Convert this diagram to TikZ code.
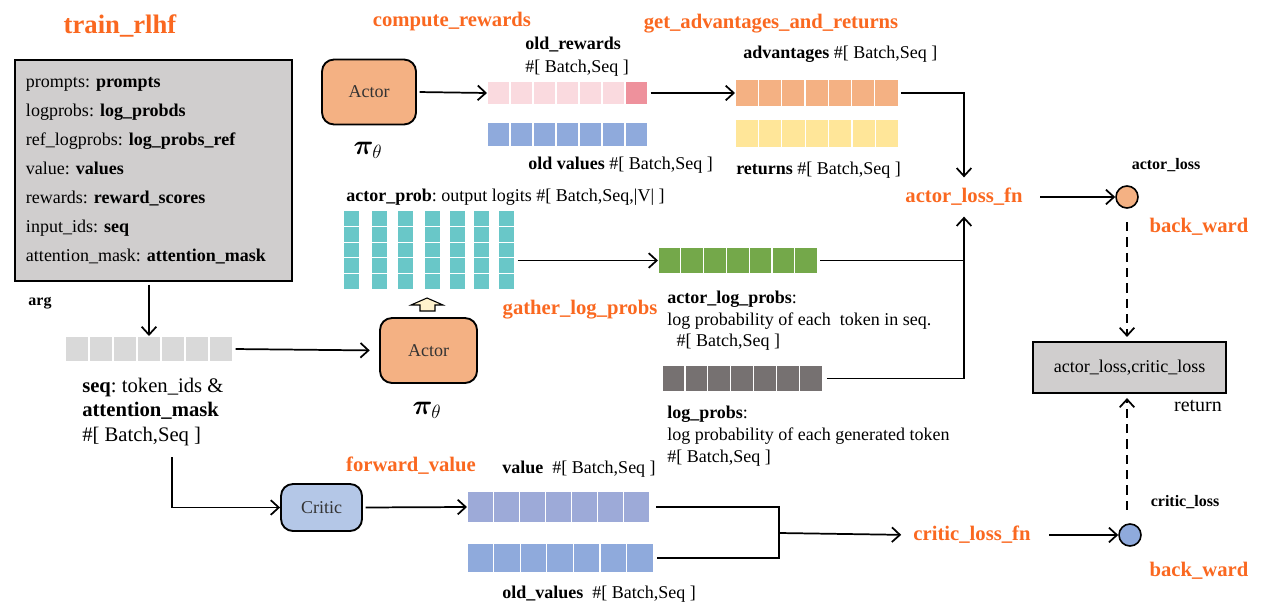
\documentclass[tikz,border=0pt]{standalone}
\usepackage{fontspec}
\setmainfont{Liberation Serif}
\usepackage{bm}
\usetikzlibrary{arrows.meta,calc}
\frenchspacing

\definecolor{fnorange}{RGB}{250,104,32}
\definecolor{cfggray}{HTML}{D0CECE}
\definecolor{actorfill}{HTML}{F4B183}
\definecolor{criticfill}{HTML}{B4C7E7}
\definecolor{rewpink}{HTML}{FADADF}
\definecolor{rewdark}{HTML}{EE919C}
\definecolor{valblue}{HTML}{8FAADC}
\definecolor{lavender}{HTML}{9DAAD8}
\definecolor{retyellow}{HTML}{FFE699}
\definecolor{tealc}{HTML}{69C7C8}
\definecolor{greenc}{HTML}{74A84A}
\definecolor{darkbar}{HTML}{767171}
\definecolor{seqgray}{HTML}{D9D9D9}
\definecolor{cream}{HTML}{FFF2CC}

\newcommand{\fsz}[2]{\fontsize{#1}{#2}\selectfont}

% token bar: name, left, top, cell width, height, cells, colour
\newcommand{\tokbar}[7]{%
  \node[inner sep=0pt,outer sep=0pt,anchor=north west,
        minimum width={#4*#6*0.75pt},minimum height={#5*0.75pt}] (#1) at (#2,#3) {};
  \foreach \k in {1,...,#6}{%
    \fill[#7,draw=white,line width=0.9pt] ({#2+(\k-1)*#4},#3) rectangle ++(#4,#5);}%
}

\tikzset{
  ln/.style={line width=1.3pt},
  arr/.style={ln,-{Straight Barb[length=6pt,width=11pt]},shorten <=2pt},
  dasharr/.style={arr,dash pattern=on 7pt off 4.5pt},
  fnlabel/.style={font=\bfseries\fsz{15.5}{18},text=fnorange,inner sep=1pt},
  txt/.style={font=\fsz{13.5}{16},inner sep=0pt},
  smallbold/.style={font=\bfseries\fsz{12}{14},inner sep=0pt},
  model/.style={draw,line width=1.4pt,rounded corners=9pt,font=\fsz{13.5}{16},text=black!80},
  pilab/.style={font=\fsz{22}{24},inner sep=0pt},
  lossdot/.style={circle,draw,line width=1.2pt,minimum size=16.5pt,inner sep=0pt},
}

\begin{document}
\begin{tikzpicture}[x=0.75pt,y=-0.75pt]
\useasboundingbox (0,0) rectangle (1269,610);

% ---------- argument block ----------
\node[font=\bfseries\fsz{20}{22},text=fnorange,inner sep=0pt] (ttl) at (120,26) {train\_rlhf};
\node[draw,line width=1.6pt,fill=cfggray,align=left,font=\fsz{13.5}{21.75},
      text width=191.25pt,inner xsep=8.25pt,minimum height=165.75pt] (cfg) at (153.5,170.5)
  {prompts: \textbf{prompts}\\
   logprobs: \textbf{log\_probds}\\
   ref\_logprobs: \textbf{log\_probs\_ref}\\
   value: \textbf{values}\\
   rewards: \textbf{reward\_scores}\\
   input\_ids: \textbf{seq}\\
   attention\_mask: \textbf{attention\_mask}};
\node[smallbold] (argl) at (40,303) {arg};

\tokbar{seqbar}{65}{336}{24}{26}{7}{seqgray}
\node[font=\fsz{15.5}{18.4},inner sep=0pt,anchor=west,align=left] (seqtxt) at (82,412)
  {\textbf{seq}: token\_ids \&\\ \textbf{attention\_mask}\\ \#[ Batch,Seq ]};
\coordinate (seqdrop) at (172,457);

% ---------- actor (experience) ----------
\node[fnlabel] (crw) at (452,22) {compute\_rewards};
\node[model,fill=actorfill,minimum width=70.5pt,minimum height=48.75pt] (actor1) at (369,92) {Actor};
\node[pilab] (pi1) at (368,150) {$\bm{\pi}_{\theta}$};

\node[txt,anchor=west,align=left,font=\fsz{13.5}{17.25}] (orl) at (525,57)
  {\textbf{old\_rewards}\\\#[ Batch,Seq ]};
\tokbar{oldrew}{487}{81}{23}{24}{7}{rewpink}
\fill[rewdark,draw=white,line width=0.9pt] ({487+6*23},81) rectangle ++(23,24);
\tokbar{oldval}{487}{122}{23}{25}{7}{valblue}
\node[txt,anchor=west] (ovl) at (528,165) {\textbf{old values} \#[ Batch,Seq ]};

\node[fnlabel] (gar) at (771,24) {get\_advantages\_and\_returns};
\node[txt,anchor=west] (advl) at (743,54) {\textbf{advantages} \#[ Batch,Seq ]};
\tokbar{adv}{735}{79}{23.3}{28}{7}{actorfill}
\tokbar{rets}{735}{119}{23.4}{29}{7}{retyellow}
\node[txt,anchor=west] (retsl) at (736,170) {\textbf{returns} \#[ Batch,Seq ]};

% ---------- actor (training) ----------
\node[txt,anchor=west] (aprob) at (346,197) {\textbf{actor\_prob}: output logits \#[ Batch,Seq,|V| ]};
\node[inner sep=0pt,outer sep=0pt,anchor=north west,minimum width=129pt,minimum height=58.9pt] (logits) at (343,210.7) {};
\foreach \cx in {343,371,397,424,449,473,498}
  \foreach \r in {0,...,4}
    \fill[tealc,draw=white,line width=0.9pt] (\cx,{210.7+\r*15.7}) rectangle ++(17,15.7);

\node[model,fill=actorfill,minimum width=72.75pt,minimum height=48.75pt] (actor2) at (428.5,350.5) {Actor};
\node[pilab] (pi2) at (427,410) {$\bm{\pi}_{\theta}$};
\draw[line width=0.8pt,fill=cream] (411,305) -- (427,298) -- (443,305) -- (435,305)
  -- (435,311) -- (420,311) -- (420,305) -- cycle;

\node[fnlabel] (glp) at (580,310) {gather\_log\_probs};
\tokbar{alp}{658}{247}{22.8}{27}{7}{greenc}
\node[txt,anchor=west,align=left,font=\fsz{13.5}{16.1}] (alpl) at (667,321)
  {\textbf{actor\_log\_probs}:\\ log probability of each~ token in seq.\\ \hspace*{7pt}\#[ Batch,Seq ]};
\tokbar{lpb}{662}{365}{22.9}{27}{7}{darkbar}
\node[txt,anchor=west,align=left,font=\fsz{13.5}{16.5}] (lpbl) at (667,436)
  {\textbf{log\_probs}:\\ log probability of each generated token\\ \#[ Batch,Seq ]};

% ---------- critic ----------
\node[fnlabel] (fwv) at (411,466) {forward\_value};
\node[model,fill=criticfill,minimum width=60.75pt,minimum height=35.25pt] (critic) at (321.5,507.5) {Critic};
\node[txt,anchor=west] (vl) at (502,469) {\textbf{value}\ \ \#[ Batch,Seq ]};
\tokbar{vbar}{467}{491}{26.1}{32}{7}{lavender}
\tokbar{ovbar}{467}{543}{26.6}{30}{7}{valblue}
\node[txt,anchor=west] (ovbl) at (502,594) {\textbf{old\_values}\ \ \#[ Batch,Seq ]};
\coordinate (merge) at (779,533);

% ---------- losses ----------
\node[fnlabel,inner ysep=8pt] (actorfn) at (964,197) {actor\_loss\_fn};
\node[fnlabel] (criticfn) at (972,535) {critic\_loss\_fn};
\node[lossdot,fill=actorfill] (aloss) at (1127,197) {};
\node[lossdot,fill=valblue] (closs) at (1130,535) {};
\node[smallbold] (alossl) at (1166,165) {actor\_loss};
\node[smallbold] (clossl) at (1185,502) {critic\_loss};
\node[fnlabel] (bw1) at (1199,227) {back\_ward};
\node[fnlabel] (bw2) at (1199,571) {back\_ward};
\node[draw,line width=1.6pt,fill=cfggray,minimum width=144.75pt,minimum height=38.25pt,
      font=\fsz{13.5}{16}] (retbox) at (1129.5,367.5) {actor\_loss,critic\_loss};
\node[font=\fsz{15}{17},inner sep=0pt] (retl) at (1198,406) {return};

% ---------- connectors ----------
\draw[arr] (cfg.south -| seqbar.north) -- (seqbar.north);
\draw[arr,shorten >=7pt] (seqbar.east) -- (actor2.west);
\draw[arr,shorten <=0pt] (seqdrop) |- (critic.west);
\draw[arr] (actor1.east) -- (oldrew.west);
\draw[arr] (oldrew.east) -- (adv.west);
\draw[arr] (adv.east) -| (actorfn.north);
\draw[arr] (logits.east |- alp.west) -- (alp.west);
\draw[ln] ([xshift=2pt]alp.east) -- (alp.east -| actorfn.south);
\draw[arr,shorten <=3.5pt] (lpb.east) -| (actorfn.south);
\draw[arr,shorten <=12pt] (actorfn.east) -- (aloss.west);
\draw[dasharr,shorten <=10pt,shorten >=3pt] (aloss.south) -- (aloss.south |- retbox.north);
\draw[dasharr,shorten <=10pt,shorten >=3pt] (closs.north -| aloss.south) -- (aloss.south |- retbox.south);
\draw[arr] (critic.east) -- (vbar.west);
\draw[ln] ([xshift=5pt]vbar.east) -| (merge);
\draw[ln] ([xshift=3pt]ovbar.east) -| (merge);
\draw[arr,shorten <=0pt,shorten >=8pt] (merge) -- (criticfn.west);
\draw[arr,shorten <=13pt] (criticfn.east) -- (closs.west);
\end{tikzpicture}
\end{document}
